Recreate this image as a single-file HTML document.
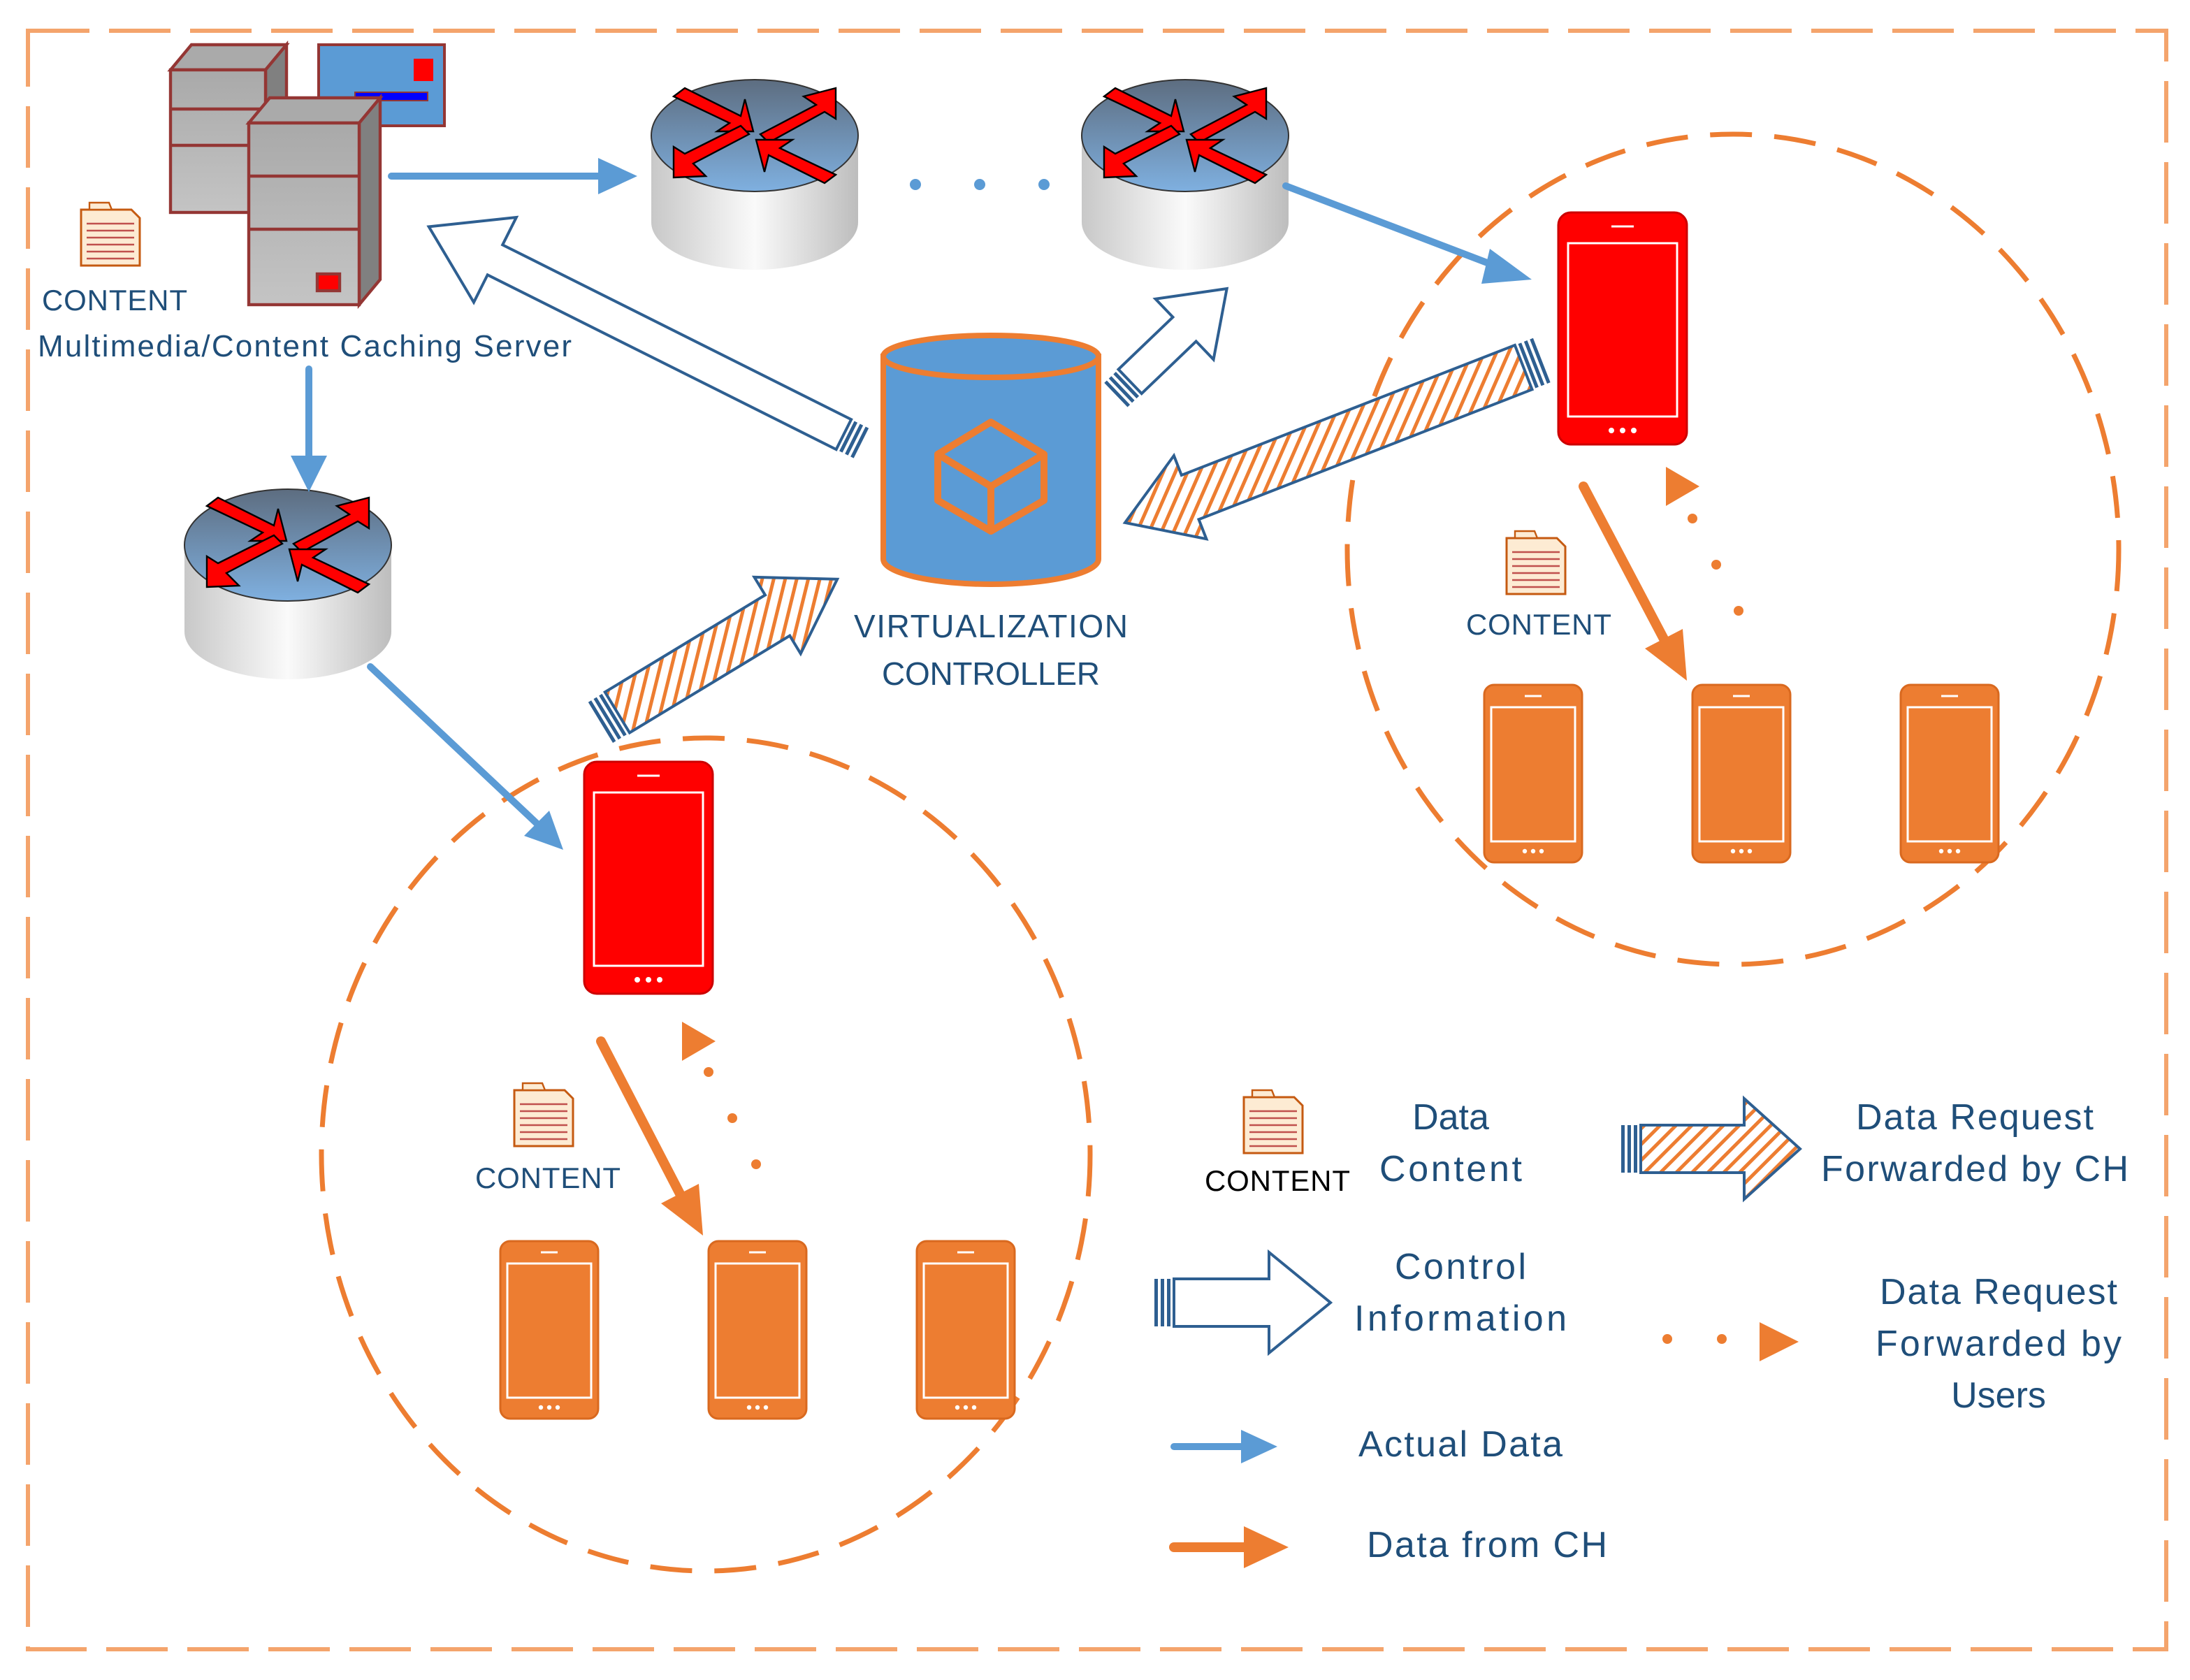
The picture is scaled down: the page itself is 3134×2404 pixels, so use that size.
<!DOCTYPE html>
<html><head><meta charset="utf-8"><style>
html,body{margin:0;padding:0;background:#fff;}
svg{display:block;}
text{font-family:"Liberation Sans",sans-serif;}
</style></head><body>
<svg width="3134" height="2404" viewBox="0 0 1567 1202" xmlns="http://www.w3.org/2000/svg">
<defs>
<pattern id="hatch" width="8" height="8" patternUnits="userSpaceOnUse" patternTransform="rotate(45)">
<rect width="8" height="8" fill="#fff"/><rect x="0" y="0" width="2.5" height="8" fill="#ed7d31"/>
</pattern>
<linearGradient id="cyl" x1="0" x2="1" y1="0" y2="0">
<stop offset="0" stop-color="#c8c8c8"/><stop offset="0.5" stop-color="#fafafa"/><stop offset="1" stop-color="#bdbdbd"/>
</linearGradient>
<linearGradient id="rtop" x1="0" x2="0" y1="0" y2="1">
<stop offset="0" stop-color="#5d6d80"/><stop offset="1" stop-color="#7fb0e0"/>
</linearGradient>
<linearGradient id="gray" x1="0" x2="0" y1="0" y2="1">
<stop offset="0" stop-color="#a9a9a9"/><stop offset="1" stop-color="#c4c4c4"/>
</linearGradient>
<g id="router">
<path d="M-74,0 L-74,62 A74,34 0 0 0 74,62 L74,0 Z" fill="url(#cyl)"/>
<ellipse cx="0" cy="0" rx="74" ry="40" fill="url(#rtop)" stroke="#333" stroke-width="1"/>
<g fill="#f00" stroke="#000" stroke-width="1.2">
<polygon points="-58,-28 -50,-34 -10,-14 -7,-26 -1,-3 -27,-3 -18,-9"/>
<polygon points="58,-34 58,-12 50,-17 10,5 4,-1 44,-22 35,-28"/>
<polygon points="-58,30 -58,8 -50,13 -10,-7 -4,-1 -44,20 -35,29"/>
<polygon points="58,28 50,34 10,14 7,26 1,3 27,3 18,9"/>
</g>
</g>
<g id="doc">
<polygon points="0,0 36,0 42,6 42,40 0,40" fill="#fdebd3" stroke="#c55a11" stroke-width="1.5"/>
<g stroke="#c0504d" stroke-width="1.3">
<line x1="4" y1="10" x2="38" y2="10"/><line x1="4" y1="15" x2="38" y2="15"/><line x1="4" y1="20" x2="38" y2="20"/><line x1="4" y1="25" x2="38" y2="25"/><line x1="4" y1="30" x2="38" y2="30"/><line x1="4" y1="35" x2="38" y2="35"/>
</g>
<polygon points="6,-5 20,-5 22,0 6,0" fill="#fdebd3" stroke="#c55a11" stroke-width="1.2"/>
</g>
<g id="ophone">
<rect x="0" y="0" width="70" height="127" rx="7" fill="#ed7d31" stroke="#d9691f" stroke-width="1.5"/>
<rect x="5" y="16" width="60" height="96" fill="none" stroke="#fff" stroke-width="1.5"/>
<line x1="29" y1="8" x2="41" y2="8" stroke="#fff" stroke-width="1.5"/>
<circle cx="29" cy="119" r="1.6" fill="#fff"/><circle cx="35" cy="119" r="1.6" fill="#fff"/><circle cx="41" cy="119" r="1.6" fill="#fff"/>
</g>
<g id="rphone">
<rect x="0" y="0" width="92" height="166" rx="9" fill="#f00" stroke="#c00" stroke-width="1.5"/>
<rect x="7" y="22" width="78" height="124" fill="none" stroke="#fff" stroke-width="1.5"/>
<line x1="38" y1="10" x2="54" y2="10" stroke="#fff" stroke-width="1.5"/>
<circle cx="38" cy="156" r="2" fill="#fff"/><circle cx="46" cy="156" r="2" fill="#fff"/><circle cx="54" cy="156" r="2" fill="#fff"/>
</g>
</defs>

<rect x="20" y="22" width="1530" height="1158" fill="none" stroke="#f4a46c" stroke-width="3" stroke-dasharray="44,14"/>

<ellipse cx="1240" cy="393" rx="276" ry="297" fill="none" stroke="#ed7d31" stroke-width="3.5" stroke-dasharray="30,16"/>
<ellipse cx="505" cy="826" rx="275" ry="298" fill="none" stroke="#ed7d31" stroke-width="3.5" stroke-dasharray="30,16"/>

<!-- server -->
<rect x="228" y="32" width="90" height="58" fill="#5b9bd5" stroke="#943634" stroke-width="2"/>
<rect x="296" y="42" width="14" height="16" fill="#f00"/>
<rect x="254" y="66" width="52" height="6" fill="#00f" stroke="#943634"/>
<g stroke="#943634" stroke-width="2.2">
<polygon points="122,50 137,32 205,32 190,50" fill="#aaa"/>
<polygon points="190,50 205,32 205,140 190,152" fill="#808080"/>
<rect x="122" y="50" width="68" height="102" fill="url(#gray)"/>
<line x1="122" y1="78" x2="190" y2="78"/><line x1="122" y1="104" x2="190" y2="104"/>
<polygon points="178,88 193,70 272,70 257,88" fill="#aaa"/>
<polygon points="257,88 272,70 272,200 257,218" fill="#808080"/>
<rect x="178" y="88" width="79" height="130" fill="url(#gray)"/>
<line x1="178" y1="126" x2="257" y2="126"/><line x1="178" y1="164" x2="257" y2="164"/>
<rect x="227" y="196" width="16" height="12" fill="#f00"/>
</g>
<use href="#doc" x="58" y="150"/>
<text x="82" y="222" font-size="21" fill="#1f4e79" text-anchor="middle" textLength="104">CONTENT</text>
<text x="218" y="255" font-size="22" fill="#1f4e79" text-anchor="middle" textLength="382">Multimedia/Content Caching Server</text>

<use href="#router" x="540" y="97"/>
<use href="#router" x="848" y="97"/>
<use href="#router" x="206" y="390"/>
<circle cx="655" cy="132" r="4" fill="#5b9bd5"/><circle cx="701" cy="132" r="4" fill="#5b9bd5"/><circle cx="747" cy="132" r="4" fill="#5b9bd5"/>

<!-- controller -->
<path d="M632,255 L632,400 A77,18 0 0 0 786,400 L786,255 Z" fill="#5b9bd5" stroke="#ed7d31" stroke-width="4"/>
<ellipse cx="709" cy="255" rx="77" ry="15" fill="#5b9bd5" stroke="#ed7d31" stroke-width="4"/>
<g fill="none" stroke="#ed7d31" stroke-width="5" stroke-linejoin="round">
<polygon points="709,302 747,325 709,348 671,325"/>
<polygon points="671,325 709,348 709,380 671,358"/>
<polygon points="747,325 709,348 709,380 747,358"/>
</g>
<text x="709" y="456" font-size="23" fill="#1f4e79" text-anchor="middle" textLength="196">VIRTUALIZATION</text>
<text x="709" y="490" font-size="23" fill="#1f4e79" text-anchor="middle" textLength="156">CONTROLLER</text>

<g stroke="#5b9bd5" stroke-width="5" stroke-linecap="round" fill="#5b9bd5">
<line x1="280" y1="126" x2="430" y2="126"/><polygon points="428,113 456,126 428,139" stroke="none"/>
<line x1="920" y1="133" x2="1072" y2="191"/><polygon points="1066,178 1096,200 1060,203" stroke="none"/>
<line x1="221" y1="264" x2="221" y2="328"/><polygon points="208,326 221,352 234,326" stroke="none"/>
<line x1="265" y1="477" x2="385" y2="590"/><polygon points="375,598 403,608 393,580" stroke="none"/>
<line x1="840" y1="1035" x2="890" y2="1035"/><polygon points="888,1023 914,1035 888,1047" stroke="none"/>
</g>

<g transform="translate(618,318) rotate(206.6)">
<polygon points="16,-12 295,-12 295,-34 348,0 295,34 295,12 16,12" fill="#fff" stroke="#2e5f91" stroke-width="2"/>
<g fill="#2e5f91"><rect x="2" y="-12" width="2.5" height="24"/><rect x="6.5" y="-12" width="2.5" height="24"/><rect x="11" y="-12" width="2.5" height="24"/></g>
</g>
<g transform="translate(797,284) rotate(-43.8)">
<polygon points="16,-12 70,-12 70,-30 112,0 70,30 70,12 16,12" fill="#fff" stroke="#2e5f91" stroke-width="2"/>
<g fill="#2e5f91"><rect x="2" y="-12" width="2.5" height="24"/><rect x="6.5" y="-12" width="2.5" height="24"/><rect x="11" y="-12" width="2.5" height="24"/></g>
</g>
<g transform="translate(1105,257) rotate(158.7)">
<polygon points="16,-17 272,-17 272,-32 322,0 272,32 272,17 16,17" fill="url(#hatch)" stroke="#2e5f91" stroke-width="2"/>
<g fill="#2e5f91"><rect x="2" y="-17" width="2.5" height="34"/><rect x="6.5" y="-17" width="2.5" height="34"/><rect x="11" y="-17" width="2.5" height="34"/></g>
</g>
<g transform="translate(428,518) rotate(-31.2)">
<polygon points="16,-17 150,-17 150,-32 200,0 150,32 150,17 16,17" fill="url(#hatch)" stroke="#2e5f91" stroke-width="2"/>
<g fill="#2e5f91"><rect x="2" y="-17" width="2.5" height="34"/><rect x="6.5" y="-17" width="2.5" height="34"/><rect x="11" y="-17" width="2.5" height="34"/></g>
</g>

<use href="#rphone" x="1115" y="152"/>
<use href="#rphone" x="418" y="545"/>
<use href="#ophone" x="1062" y="490"/><use href="#ophone" x="1211" y="490"/><use href="#ophone" x="1360" y="490"/>
<use href="#ophone" x="358" y="888"/><use href="#ophone" x="507" y="888"/><use href="#ophone" x="656" y="888"/>

<g stroke="#ed7d31" stroke-width="7" stroke-linecap="round" fill="#ed7d31">
<line x1="1133" y1="348" x2="1192" y2="460"/><polygon points="1177,464 1207,487 1204,450" stroke="none"/>
<line x1="430" y1="745" x2="488" y2="857"/><polygon points="473,861 503,884 500,847" stroke="none"/>
<line x1="840" y1="1107" x2="892" y2="1107"/><polygon points="890,1092 922,1107 890,1122" stroke="none"/>
</g>
<g fill="#ed7d31">
<circle cx="1244" cy="437" r="3.5"/><circle cx="1228" cy="404" r="3.5"/><circle cx="1211" cy="371" r="3.5"/>
<polygon points="1192,334 1216,348 1192,362"/>
<circle cx="541" cy="833" r="3.5"/><circle cx="524" cy="800" r="3.5"/><circle cx="507" cy="767" r="3.5"/>
<polygon points="488,731 512,745 488,759"/>
<circle cx="1193" cy="958" r="3.5"/><circle cx="1232" cy="958" r="3.5"/>
<polygon points="1259,946 1287,960 1259,974"/>
</g>

<use href="#doc" x="1078" y="385"/>
<text x="1101" y="454" font-size="21" fill="#1f4e79" text-anchor="middle" textLength="104">CONTENT</text>
<use href="#doc" x="368" y="780"/>
<text x="392" y="850" font-size="21" fill="#1f4e79" text-anchor="middle" textLength="104">CONTENT</text>

<use href="#doc" x="890" y="785"/>
<text x="914" y="852" font-size="21" fill="#000" text-anchor="middle" textLength="104">CONTENT</text>
<text x="1038" y="808" font-size="26" fill="#1f4e79" text-anchor="middle">Data</text>
<text x="1038" y="845" font-size="26" fill="#1f4e79" text-anchor="middle" textLength="102">Content</text>
<g transform="translate(1158,822)">
<polygon points="16,-17 90,-17 90,-36 130,0 90,36 90,17 16,17" fill="url(#hatch)" stroke="#2e5f91" stroke-width="2"/>
<g fill="#2e5f91"><rect x="2" y="-17" width="2.5" height="34"/><rect x="6.5" y="-17" width="2.5" height="34"/><rect x="11" y="-17" width="2.5" height="34"/></g>
</g>
<text x="1413" y="808" font-size="26" fill="#1f4e79" text-anchor="middle" textLength="170">Data Request</text>
<text x="1413" y="845" font-size="26" fill="#1f4e79" text-anchor="middle" textLength="220">Forwarded by CH</text>
<g transform="translate(824,932)">
<polygon points="16,-17 84,-17 84,-36 128,0 84,36 84,17 16,17" fill="#fff" stroke="#2e5f91" stroke-width="2"/>
<g fill="#2e5f91"><rect x="2" y="-17" width="2.5" height="34"/><rect x="6.5" y="-17" width="2.5" height="34"/><rect x="11" y="-17" width="2.5" height="34"/></g>
</g>
<text x="1045" y="915" font-size="26" fill="#1f4e79" text-anchor="middle" textLength="94">Control</text>
<text x="1045" y="952" font-size="26" fill="#1f4e79" text-anchor="middle" textLength="152">Information</text>
<text x="1430" y="933" font-size="26" fill="#1f4e79" text-anchor="middle" textLength="170">Data Request</text>
<text x="1430" y="970" font-size="26" fill="#1f4e79" text-anchor="middle" textLength="176">Forwarded by</text>
<text x="1430" y="1007" font-size="26" fill="#1f4e79" text-anchor="middle">Users</text>
<text x="1045" y="1042" font-size="26" fill="#1f4e79" text-anchor="middle" textLength="146">Actual Data</text>
<text x="1064" y="1114" font-size="26" fill="#1f4e79" text-anchor="middle" textLength="172">Data from CH</text>
</svg>
</body></html>
